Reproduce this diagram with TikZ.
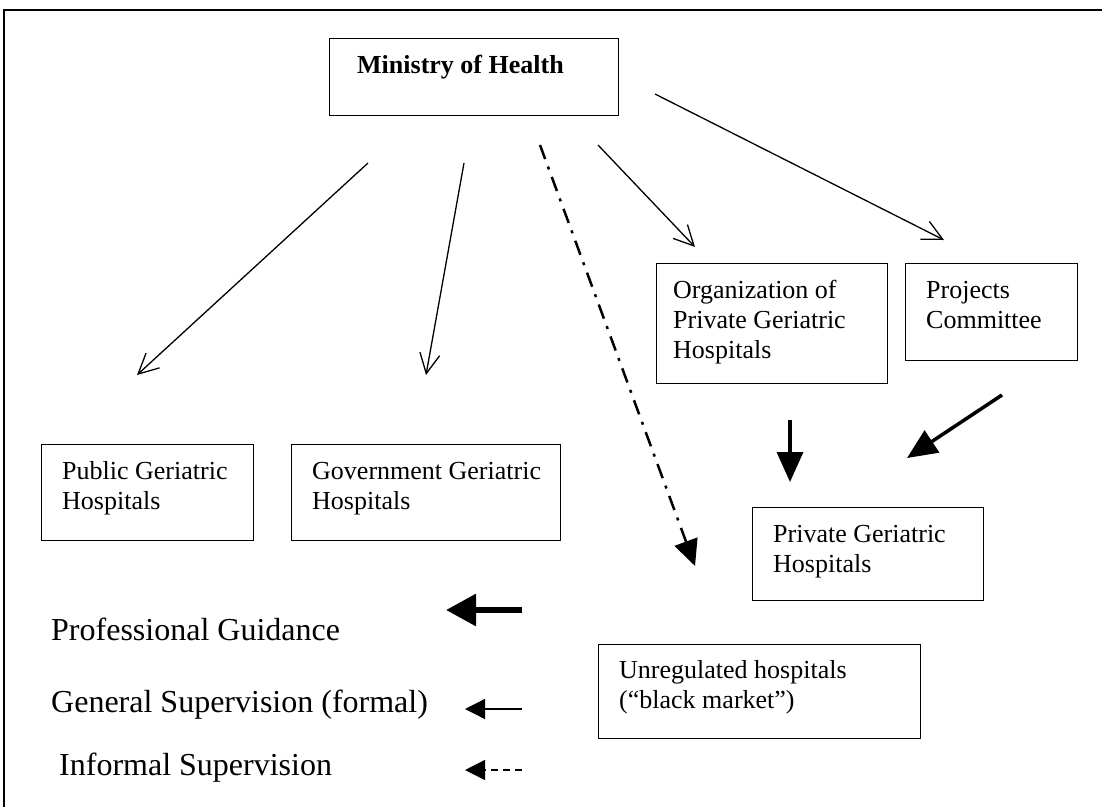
\documentclass[tikz,border=0pt]{standalone}
\usepackage{fontspec}
\setmainfont{Liberation Serif}
\usetikzlibrary{arrows.meta}
\begin{document}
\begin{tikzpicture}[x=1pt,y=-1pt,
  box/.style={draw, line width=1.3pt, inner sep=0pt, anchor=north west},
  txt/.style={inner sep=0pt, anchor=base west, font=\fontsize{26}{30}\selectfont},
  leg/.style={inner sep=0pt, anchor=base west, font=\fontsize{32}{38}\selectfont},
  openarrow/.style={line width=1.3pt, -{Straight Barb[length=20pt,width=20pt,line width=1.3pt]}},
  dashdotarrow/.style={line width=2.5pt, dash pattern=on 15pt off 8pt on 3pt off 8pt, -{Triangle[length=26pt,width=24pt]}},
  thickarrow/.style={line width=3.5pt, -{Triangle[length=30pt,width=26pt]}},
  legthick/.style={line width=6pt, -{Triangle[length=30pt,width=31pt]}},
  legthin/.style={line width=1.3pt, -{Triangle[length=20pt,width=20pt]}},
  legdash/.style={line width=1.3pt, dash pattern=on 7pt off 5pt, -{Triangle[length=20pt,width=20pt]}}
]
\useasboundingbox (0,0) rectangle (1102,806);
\clip (0,0) rectangle (1102,806);
\fill[white] (0,0) rectangle (1102,806);
% outer frame
\draw[line width=1.5pt] (4,815) -- (4,10) -- (1110,10);

% boxes
\node[box, minimum width=289pt, minimum height=77pt] (min) at (329,38) {};
\node[box, minimum width=212pt, minimum height=96pt] (pub) at (41,444) {};
\node[box, minimum width=269pt, minimum height=96pt] (gov) at (291,444) {};
\node[box, minimum width=231pt, minimum height=120pt] (org) at (656,263) {};
\node[box, minimum width=172pt, minimum height=97pt] (proj) at (905,263) {};
\node[box, minimum width=231pt, minimum height=93pt] (priv) at (752,507) {};
\node[box, minimum width=322pt, minimum height=94pt] (unreg) at (598,644) {};

% texts
\node[txt] (mint) at (357,73) {\textbf{Ministry of Health}};
\node[txt] (pubt) at (62,479) {\begin{tabular}[t]{@{}l@{}}Public Geriatric\\Hospitals\end{tabular}};
\node[txt] (govt) at (312,479) {\begin{tabular}[t]{@{}l@{}}Government Geriatric\\Hospitals\end{tabular}};
\node[txt] (orgt) at (673,298) {\begin{tabular}[t]{@{}l@{}}Organization of\\Private Geriatric\\Hospitals\end{tabular}};
\node[txt] (projt) at (926,298) {\begin{tabular}[t]{@{}l@{}}Projects\\Committee\end{tabular}};
\node[txt] (privt) at (773,542) {\begin{tabular}[t]{@{}l@{}}Private Geriatric\\Hospitals\end{tabular}};
\node[txt] (unregt) at (619,678) {\begin{tabular}[t]{@{}l@{}}Unregulated hospitals\\(“black market”)\end{tabular}};

% legend texts
\node[leg] (l1) at (51,640) {Professional Guidance};
\node[leg] (l2) at (51,712) {General Supervision (formal)};
\node[leg] (l3) at (59,775) {Informal Supervision};

% arrow end points
\coordinate (a1s) at (368,163); \coordinate (a1e) at (137,375);
\coordinate (a2s) at (464,163); \coordinate (a2e) at (426,375);
\coordinate (a3s) at (540,145); \coordinate (a3e) at (695,566);
\coordinate (a4s) at (598,145); \coordinate (a4e) at (695,247);
\coordinate (a5s) at (655,94);  \coordinate (a5e) at (944,240);
\coordinate (b1s) at (790,420); \coordinate (b1e) at (790,482);
\coordinate (b2s) at (1002,395); \coordinate (b2e) at (907,458);
\coordinate (g1s) at (522,610); \coordinate (g1e) at (446,610);
\coordinate (g2s) at (522,709); \coordinate (g2e) at (465,709);
\coordinate (g3s) at (522,770); \coordinate (g3e) at (465,770);

% arrows
\draw[openarrow] (a1s) -- (a1e);
\draw[openarrow] (a2s) -- (a2e);
\draw[dashdotarrow] (a3s) -- (a3e);
\draw[openarrow] (a4s) -- (a4e);
\draw[openarrow] (a5s) -- (a5e);
\draw[thickarrow] (b1s) -- (b1e);
\draw[thickarrow] (b2s) -- (b2e);
\draw[legthick] (g1s) -- (g1e);
\draw[legthin] (g2s) -- (g2e);
\draw[legdash] (g3s) -- (g3e);
\end{tikzpicture}
\end{document}
